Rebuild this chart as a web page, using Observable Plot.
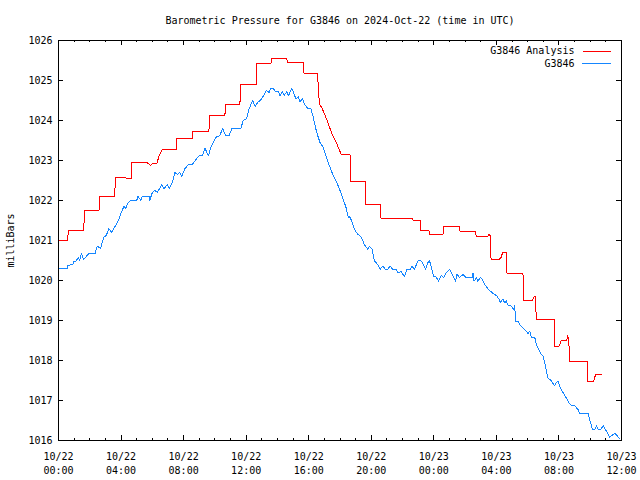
<!DOCTYPE html>
<html><head><meta charset="utf-8">
<script src="https://cdn.jsdelivr.net/npm/d3@7"></script>
<script src="https://cdn.jsdelivr.net/npm/@observablehq/plot@0.6"></script>
<style>body{margin:0;background:#fff}</style>
</head><body><div id="chart"></div>
<script>
const startTime = Date.UTC(2024, 9, 22, 0, 0);
const title = "Barometric Pressure for G3846 on 2024-Oct-22 (time in UTC)";
const yLabel = "milliBars";
const seriesNames = ["G3846 Analysis", "G3846"];
const seriesColors = ["#ff0000", "#1586ff"];
const yTicks = [1016, 1017, 1018, 1019, 1020, 1021, 1022, 1023, 1024, 1025, 1026];
const xTickHours = [0, 4, 8, 12, 16, 20, 24, 28, 32, 36];

// G3846 Analysis (hours since 10/22 00:00 UTC, mb)
const analysisHours = [0, 0.59, 0.62, 1.62, 1.65, 2.6, 2.65, 3.6, 3.63, 4.29, 4.33, 4.66, 4.69, 5.66, 5.89, 6.03, 6.3, 6.43, 6.64, 7.52, 7.56, 8.56, 8.6, 9.62, 9.66, 10.64, 10.68, 11.6, 11.64, 12.63, 12.67, 13.58, 13.62, 14.6, 14.64, 15.66, 15.7, 16.56, 16.68, 16.87, 17.08, 17.29, 17.5, 17.72, 17.93, 18.1, 18.64, 18.68, 19.6, 19.64, 20.57, 20.61, 22.62, 22.68, 23.13, 23.17, 23.7, 23.74, 24.6, 24.64, 25.63, 25.67, 26.67, 26.71, 27.45, 27.52, 27.6, 27.66, 28.2, 28.3, 28.4, 28.64, 28.68, 29.7, 29.74, 30.3, 30.42, 30.5, 30.55, 31.69, 31.73, 32.0, 32.15, 32.5, 32.57, 32.65, 32.7, 33.8, 33.83, 34.2, 34.35, 34.7];
const analysisValues = [1020.99, 1020.99, 1021.24, 1021.24, 1021.76, 1021.76, 1022.11, 1022.11, 1022.58, 1022.58, 1022.55, 1022.55, 1022.95, 1022.95, 1022.88, 1022.93, 1022.93, 1023.12, 1023.27, 1023.27, 1023.56, 1023.56, 1023.73, 1023.73, 1024.12, 1024.12, 1024.40, 1024.40, 1024.90, 1024.90, 1025.42, 1025.42, 1025.54, 1025.54, 1025.44, 1025.44, 1025.17, 1025.17, 1024.42, 1024.29, 1024.10, 1023.87, 1023.66, 1023.49, 1023.29, 1023.14, 1023.14, 1022.48, 1022.48, 1021.89, 1021.89, 1021.56, 1021.56, 1021.51, 1021.51, 1021.24, 1021.24, 1021.16, 1021.16, 1021.36, 1021.36, 1021.23, 1021.23, 1021.10, 1021.10, 1021.15, 1021.12, 1020.53, 1020.53, 1020.58, 1020.70, 1020.70, 1020.18, 1020.18, 1019.50, 1019.50, 1019.59, 1019.59, 1019.03, 1019.03, 1018.35, 1018.35, 1018.50, 1018.50, 1018.62, 1018.35, 1017.97, 1017.97, 1017.47, 1017.47, 1017.65, 1017.65];

// G3846 station observations (hours since 10/22 00:00 UTC, mb)
const stationHours = [0, 0.56, 0.6, 0.92, 0.98, 1.13, 1.26, 1.35, 1.47, 1.6, 1.73, 1.94, 2.33, 2.48, 2.69, 2.9, 3.05, 3.22, 3.4, 3.61, 3.82, 3.97, 4.19, 4.29, 4.46, 4.61, 5.0, 5.08, 5.27, 5.36, 5.79, 5.83, 6.0, 6.17, 6.32, 6.6, 6.75, 6.96, 7.07, 7.28, 7.45, 7.6, 7.75, 7.88, 8.09, 8.31, 8.56, 8.78, 9.0, 9.2, 9.37, 9.59, 9.74, 10.06, 10.31, 10.49, 10.7, 10.91, 11.08, 11.66, 11.81, 12.02, 12.19, 12.41, 12.58, 12.73, 12.94, 13.11, 13.3, 13.47, 13.58, 13.73, 13.86, 14.07, 14.16, 14.33, 14.43, 14.59, 14.71, 14.91, 15.01, 15.18, 15.33, 15.44, 15.61, 15.72, 15.93, 16.14, 16.29, 16.51, 16.72, 16.93, 17.1, 17.32, 17.53, 17.74, 18.0, 18.17, 18.39, 18.53, 18.6, 18.75, 18.92, 19.13, 19.35, 19.56, 19.78, 19.88, 20.05, 20.2, 20.41, 20.56, 20.74, 20.9, 21.06, 21.2, 21.38, 21.59, 21.72, 21.91, 22.12, 22.27, 22.49, 22.61, 22.76, 22.98, 23.19, 23.34, 23.47, 23.62, 23.72, 23.83, 23.98, 24.15, 24.3, 24.47, 24.62, 24.79, 25.0, 25.18, 25.39, 25.48, 25.64, 25.86, 26.07, 26.46, 26.5, 26.57, 26.71, 26.82, 26.97, 27.1, 27.25, 27.46, 27.74, 28.04, 28.17, 28.25, 28.42, 28.53, 28.64, 28.74, 28.96, 29.1, 29.17, 29.23, 29.38, 29.49, 29.7, 29.92, 30.02, 30.13, 30.24, 30.45, 30.56, 30.71, 30.88, 30.98, 31.09, 31.2, 31.3, 31.45, 31.58, 31.73, 31.84, 31.95, 32.1, 32.27, 32.48, 32.65, 32.8, 33.01, 33.23, 33.33, 33.87, 33.97, 34.15, 34.29, 34.4, 34.51, 34.66, 34.83, 35.04, 35.25, 35.43, 35.57, 35.86];
const stationValues = [1020.29, 1020.29, 1020.38, 1020.40, 1020.47, 1020.49, 1020.57, 1020.51, 1020.67, 1020.53, 1020.58, 1020.67, 1020.67, 1020.86, 1020.80, 1021.09, 1021.12, 1021.30, 1021.20, 1021.35, 1021.49, 1021.66, 1021.86, 1021.80, 1021.95, 1022.00, 1022.00, 1022.10, 1022.00, 1022.10, 1022.10, 1022.00, 1022.20, 1022.25, 1022.20, 1022.39, 1022.30, 1022.40, 1022.30, 1022.45, 1022.70, 1022.65, 1022.70, 1022.60, 1022.80, 1022.90, 1022.90, 1023.02, 1023.12, 1023.12, 1023.30, 1023.12, 1023.33, 1023.58, 1023.62, 1023.80, 1023.62, 1023.62, 1023.79, 1023.80, 1024.00, 1024.04, 1024.29, 1024.50, 1024.35, 1024.45, 1024.52, 1024.62, 1024.75, 1024.70, 1024.81, 1024.81, 1024.72, 1024.72, 1024.62, 1024.72, 1024.62, 1024.72, 1024.62, 1024.81, 1024.72, 1024.54, 1024.60, 1024.47, 1024.54, 1024.41, 1024.31, 1024.29, 1024.08, 1023.70, 1023.45, 1023.33, 1023.12, 1022.87, 1022.66, 1022.50, 1022.25, 1022.07, 1021.82, 1021.57, 1021.61, 1021.49, 1021.28, 1021.16, 1021.09, 1020.90, 1020.78, 1020.86, 1020.78, 1020.49, 1020.40, 1020.28, 1020.36, 1020.28, 1020.28, 1020.36, 1020.28, 1020.28, 1020.19, 1020.23, 1020.09, 1020.27, 1020.28, 1020.36, 1020.28, 1020.49, 1020.49, 1020.40, 1020.28, 1020.45, 1020.49, 1020.36, 1020.11, 1020.09, 1019.98, 1020.13, 1020.07, 1020.19, 1020.28, 1020.15, 1019.98, 1020.16, 1020.07, 1020.15, 1020.07, 1020.07, 1020.19, 1019.98, 1020.07, 1019.98, 1020.07, 1020.03, 1019.90, 1019.79, 1019.69, 1019.61, 1019.53, 1019.46, 1019.53, 1019.44, 1019.49, 1019.38, 1019.36, 1019.28, 1019.38, 1018.98, 1018.98, 1018.90, 1018.81, 1018.73, 1018.67, 1018.73, 1018.58, 1018.58, 1018.40, 1018.27, 1018.15, 1018.11, 1017.94, 1017.73, 1017.56, 1017.52, 1017.45, 1017.37, 1017.45, 1017.48, 1017.31, 1017.19, 1017.06, 1016.93, 1016.88, 1016.87, 1016.77, 1016.68, 1016.67, 1016.52, 1016.27, 1016.27, 1016.37, 1016.27, 1016.27, 1016.37, 1016.23, 1016.08, 1016.14, 1016.18, 1016.06];

const W = 640, H = 480, mL = 58, mR = 19, mT = 40, mB = 40;
const frameW = W - mL - mR, frameH = H - mT - mB;
const majorLen = 5, minorLen = 2;

const toDate = h => new Date(startTime + h * 3600e3);
const analysis = analysisHours.map((h, i) => ({t: toDate(h), p: analysisValues[i]}));
const station = stationHours.map((h, i) => ({t: toDate(h), p: stationValues[i]}));
const majorX = xTickHours.map(toDate);
const minorX = d3.range(xTickHours[0], xTickHours[xTickHours.length - 1] + 1).map(toDate);
const fmt = d3.utcFormat("%m/%d\n%H:%M");
const lineShape = {draw(ctx, l) { ctx.moveTo(0, 0); ctx.lineTo(0, -l); }};
const id = d => d;

const chart = Plot.plot({
  width: W, height: H,
  marginLeft: mL, marginRight: mR, marginTop: mT, marginBottom: mB,
  style: {fontFamily: "'DejaVu Sans Mono', monospace", fontSize: "10px", color: "black", background: "white", shapeRendering: "crispEdges"},
  x: {type: "utc", domain: [majorX[0], majorX[majorX.length - 1]]},
  y: {domain: [yTicks[0], yTicks[yTicks.length - 1]]},
  marks: [
    // inward ticks on all four sides (gnuplot style, mirrored)
    Plot.tickX(minorX, {x: id, insetTop: frameH - minorLen, stroke: "black"}),
    Plot.tickX(minorX, {x: id, insetBottom: frameH - minorLen, stroke: "black"}),
    Plot.tickX(majorX, {x: id, insetTop: frameH - majorLen, stroke: "black"}),
    Plot.tickX(majorX, {x: id, insetBottom: frameH - majorLen, stroke: "black"}),
    Plot.tickY(yTicks, {y: id, insetRight: frameW - majorLen, stroke: "black"}),
    Plot.tickY(yTicks, {y: id, insetLeft: frameW - majorLen, stroke: "black"}),
    Plot.axisX(majorX, {anchor: "bottom", tickSize: 0, tickPadding: 10, tickFormat: fmt, lineHeight: 1.4, label: null}),
    Plot.axisY(yTicks, {anchor: "left", tickSize: 0, tickPadding: 6, tickFormat: d => String(d), label: null}),
    Plot.line(analysis, {x: "t", y: "p", stroke: seriesColors[0], strokeWidth: 1}),
    Plot.line(station, {x: "t", y: "p", stroke: seriesColors[1], strokeWidth: 1}),
    Plot.frame({stroke: "black", strokeWidth: 1}),
    Plot.text([title], {frameAnchor: "top", dy: -20, lineAnchor: "middle", textAnchor: "middle"}),
    Plot.text([yLabel], {frameAnchor: "left", dx: -48, rotate: -90, textAnchor: "middle", lineAnchor: "middle"}),
    Plot.text([seriesNames[0]], {frameAnchor: "top-right", dx: -47, dy: 10.5, textAnchor: "end", lineAnchor: "middle"}),
    Plot.text([seriesNames[1]], {frameAnchor: "top-right", dx: -47, dy: 23, textAnchor: "end", lineAnchor: "middle"}),
    Plot.vector([0], {frameAnchor: "top-right", dx: -39, dy: 10.5, length: 28, rotate: 90, anchor: "start", shape: lineShape, stroke: seriesColors[0], strokeWidth: 1}),
    Plot.vector([0], {frameAnchor: "top-right", dx: -39, dy: 23, length: 28, rotate: 90, anchor: "start", shape: lineShape, stroke: seriesColors[1], strokeWidth: 1})
  ]
});
document.getElementById("chart").appendChild(chart);
</script>
</body></html>
